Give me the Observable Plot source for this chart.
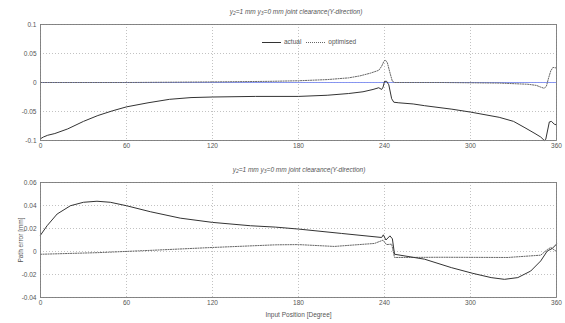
<!DOCTYPE html>
<html><head><meta charset="utf-8">
<script src="https://cdn.jsdelivr.net/npm/d3@7"></script>
<script src="https://cdn.jsdelivr.net/npm/@observablehq/plot@0.6"></script>
<style>
body{margin:0;background:#fff;font-family:"Liberation Sans",Arial,sans-serif;}
#fig{position:relative;width:565px;height:323px;overflow:hidden;background:#fff}
.title{position:absolute;font-size:6.5px;font-style:italic;color:#555;white-space:nowrap;transform:translateX(-50%);line-height:1}
.title sub{font-size:5px;vertical-align:-1px}
#legend{position:absolute;left:262px;top:38px;font-size:6.5px;color:#555;white-space:nowrap;line-height:8px}
#legend .sw{display:inline-block;width:19px;height:0;vertical-align:middle;margin-right:3px}
.plot{position:absolute;left:0}
</style></head>
<body>
<div id="fig">
  <div class="title" style="left:296px;top:9px"><i>y</i><sub>2</sub>=1 mm <i>y</i><sub>3</sub>=0 mm joint clearance(Y-direction)</div>
  <div class="title" style="left:299px;top:167px"><i>y</i><sub>2</sub>=1 mm <i>y</i><sub>3</sub>=0 mm joint clearance(Y-direction)</div>
</div>
<script>
// ---------- data ----------
const xTicks = [0, 60, 120, 180, 240, 300, 360];
const topYTicks = [-0.1, -0.05, 0, 0.05, 0.1];
const botYTicks = [-0.04, -0.02, 0, 0.02, 0.04, 0.06];
const seriesNames = ["actual", "optimised"];

const topActualX = [0, 2, 5, 10, 19, 30, 40, 50, 60, 75, 90, 105, 120, 150, 180, 200, 215, 225, 232, 236, 238, 239, 240, 241.5, 243, 245, 246.5, 250, 260, 268, 287, 300, 320, 330, 338, 345, 349, 351.5, 352.5, 355, 356.5, 358.5, 360];
const topActualY = [-0.097, -0.094, -0.091, -0.088, -0.080, -0.067, -0.057, -0.049, -0.042, -0.035, -0.029, -0.026, -0.025, -0.024, -0.024, -0.022, -0.019, -0.016, -0.012, -0.009, -0.012, -0.008, 0.002, 0.002, -0.004, -0.028, -0.034, -0.035, -0.037, -0.040, -0.046, -0.051, -0.060, -0.067, -0.078, -0.088, -0.094, -0.100, -0.098, -0.068, -0.067, -0.072, -0.073];

const topOptX = [0, 60, 120, 160, 180, 200, 215, 223, 230, 236, 238, 239.5, 240.5, 242, 244, 245.5, 247, 280, 320, 340, 346, 349, 351.5, 353, 354.5, 356, 357.5, 360];
const topOptY = [0.000, 0.000, 0.001, 0.002, 0.003, 0.005, 0.008, 0.0115, 0.016, 0.021, 0.028, 0.036, 0.039, 0.034, 0.015, 0.002, 0.000, 0.000, -0.001, -0.003, -0.005, -0.008, -0.010, -0.006, 0.008, 0.020, 0.026, 0.025];

const botActualX = [0, 4.6, 11.6, 20.9, 30, 39.4, 48.7, 60, 76.6, 97.5, 120, 146.5, 164, 180, 210, 238, 239.2, 241, 243.8, 245.5, 247, 268, 286.6, 301.6, 314.4, 323.7, 333, 342, 349, 353.6, 357, 360];
const botActualY = [0.0142, 0.0224, 0.0326, 0.0398, 0.0428, 0.0437, 0.0428, 0.0398, 0.0346, 0.0290, 0.0253, 0.0224, 0.0212, 0.0195, 0.0157, 0.0122, 0.0145, 0.0100, 0.0136, 0.0110, -0.0024, -0.0067, -0.0140, -0.0190, -0.0227, -0.0242, -0.0227, -0.0170, -0.0082, 0.0005, 0.0026, 0.0064];

const botOptX = [0, 40, 77, 120, 164, 180, 205, 233, 239, 241.4, 245, 247, 280, 326, 349, 353.6, 356, 360];
const botOptY = [-0.0024, -0.0010, 0.0010, 0.0035, 0.0058, 0.0060, 0.0044, 0.0070, 0.0099, 0.0060, 0.0064, -0.0052, -0.0050, -0.0052, -0.0032, 0.0017, 0.0035, 0.0000];

// ---------- helpers ----------
const toRows = (xs, ys) => xs.map((x, i) => ({x, y: ys[i]}));
const fmt = d => String(+d.toFixed(3)).replace("\u2212", "-");
const font = "Liberation Sans, Arial, sans-serif";
const gridStyle = {stroke: "#8a8a8a", strokeOpacity: 0.75, strokeDasharray: "1,2", strokeWidth: 0.7};
const actualStyle = {stroke: "#333", strokeWidth: 1};
const optStyle = {stroke: "#666", strokeWidth: 1, strokeDasharray: "1.2,1.3"};

function panel({height, marginTop, marginBottom, yDomain, yTicks, actual, opt, bottom, zeroRule}) {
  return Plot.plot({
    width: 565, height,
    marginLeft: 40, marginRight: 9, marginTop, marginBottom,
    style: {fontSize: "6.5px", fontFamily: font, color: "#555", background: "transparent"},
    x: {domain: [0, 360]},
    y: {domain: yDomain},
    marks: [
      Plot.gridX(xTicks, gridStyle),
      Plot.gridY(yTicks, gridStyle),
      zeroRule ? Plot.ruleY([0], {stroke: "#7d8cf0", strokeWidth: 0.9}) : null,
      Plot.line(opt, {x: "x", y: "y", ...optStyle}),
      Plot.line(actual, {x: "x", y: "y", ...actualStyle}),
      Plot.frame({stroke: "#7a7a7a", strokeWidth: 0.9}),
      Plot.axisX(xTicks, {tickSize: 0, tickPadding: 3, tickFormat: d => String(d),
        label: bottom ? "Input Position [Degree]" : null, labelAnchor: "center", labelArrow: "none", labelOffset: 19}),
      Plot.axisY(yTicks, {tickSize: 0, tickPadding: 4, tickFormat: fmt,
        label: bottom ? "Path error [mm]" : null, labelAnchor: "center", labelArrow: "none", labelOffset: 22})
    ]
  });
}

const fig = document.getElementById("fig");

const topPlot = panel({
  height: 155, marginTop: 24, marginBottom: 15,
  yDomain: [-0.1, 0.1], yTicks: topYTicks,
  actual: toRows(topActualX, topActualY), opt: toRows(topOptX, topOptY),
  bottom: false, zeroRule: true
});
topPlot.classList.add("plot"); topPlot.style.top = "0px";
fig.appendChild(topPlot);

const botPlot = panel({
  height: 163, marginTop: 22, marginBottom: 26,
  yDomain: [-0.04, 0.06], yTicks: botYTicks,
  actual: toRows(botActualX, botActualY), opt: toRows(botOptX, botOptY),
  bottom: true, zeroRule: false
});
botPlot.classList.add("plot"); botPlot.style.top = "160px";
fig.appendChild(botPlot);

// legend
const lg = document.createElement("div");
lg.id = "legend";
lg.innerHTML =
  `<span class="sw" style="border-top:1px solid #333"></span>${seriesNames[0]}` +
  `<span class="sw" style="border-top:1px dotted #666;margin-left:5px"></span>${seriesNames[1]}`;
fig.appendChild(lg);
</script>
</body></html>
